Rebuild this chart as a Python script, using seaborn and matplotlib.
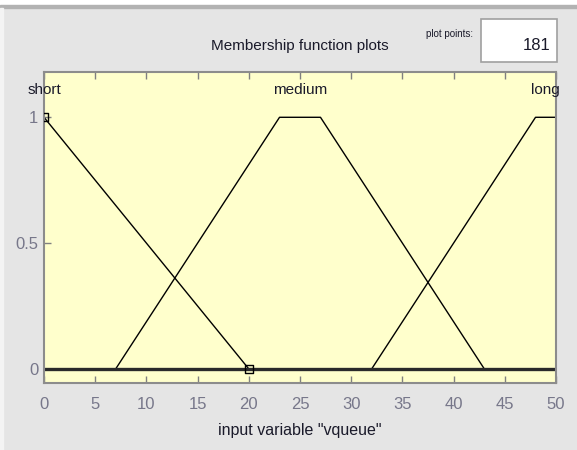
import matplotlib
matplotlib.use("Agg")
import matplotlib.pyplot as plt
from matplotlib.patches import Rectangle
import seaborn as sns
import pandas as pd

# Membership function vertices for input variable "vqueue"
mf_names = ["short", "medium", "long"]
short_x = [0, 20]
short_y = [1, 0]
medium_x = [7, 23, 27, 43]
medium_y = [0, 1, 1, 0]
long_x = [32, 48, 50]
long_y = [0, 1, 1]
label_x = [0, 25, 49]
x_range = [0, 50]
x_ticks = [0, 5, 10, 15, 20, 25, 30, 35, 40, 45, 50]
y_ticks = [0, 0.5, 1]
y_tick_labels = ["0", "0.5", "1"]
plot_points = 181

sns.set_theme(style="white")
plt.rcParams["font.family"] = ["Liberation Sans", "DejaVu Sans"]

bg = "#e5e5e5"
text_col = "#1a1a2a"
fig = plt.figure(figsize=(5.77, 4.5), dpi=100, facecolor=bg)

# window frame strips along the top and left edge
fig.patches.append(Rectangle((0, 1 - 5 / 450), 1, 5 / 450, transform=fig.transFigure,
                             color="white", zorder=0))
fig.patches.append(Rectangle((0, 1 - 8 / 450), 1, 3 / 450, transform=fig.transFigure,
                             color="#b2b2b2", zorder=0))
fig.patches.append(Rectangle((0, 0), 3 / 577, 1 - 8 / 450, transform=fig.transFigure,
                             color="#f4f4f4", zorder=0))

ax = fig.add_axes([44 / 577, 1 - 383 / 450, 512 / 577, 311 / 450])
ax.set_facecolor("#ffffcc")

mf_frames = [
    pd.DataFrame({"x": short_x, "mu": short_y, "mf": "short"}),
    pd.DataFrame({"x": medium_x, "mu": medium_y, "mf": "medium"}),
    pd.DataFrame({"x": long_x, "mu": long_y, "mf": "long"}),
]
for df in mf_frames:
    sns.lineplot(data=df, x="x", y="mu", ax=ax, color="black", lw=1.0,
                 sort=False, estimator=None, legend=False)

# zero baseline across the universe of discourse
base = pd.DataFrame({"x": x_range, "mu": [0, 0]})
sns.lineplot(data=base, x="x", y="mu", ax=ax, color="#2a2a2a", lw=2.4,
             estimator=None, legend=False)

# vertex markers of the selected function
sel = pd.DataFrame({"x": short_x, "mu": short_y})
sns.scatterplot(data=sel, x="x", y="mu", ax=ax, marker="s", s=30,
                facecolor="none", edgecolor="black", linewidth=1.0, zorder=5,
                legend=False)

for name, lx in zip(mf_names, label_x):
    ax.text(lx, 1.11, name, ha="center", va="center", fontsize=11,
            color=text_col, clip_on=False)

ax.set_xlim(x_range)
ax.set_ylim(-0.056, 1.18)
ax.set_xticks(x_ticks)
ax.set_xticklabels([str(t) for t in x_ticks])
ax.set_yticks(y_ticks)
ax.set_yticklabels(y_tick_labels)
tick_col = "#77778a"
ax.tick_params(axis="both", direction="in", length=5, width=1, color="#808080",
               labelcolor=tick_col, labelsize=12, top=True, bottom=True,
               left=True, right=False)
ax.tick_params(axis="x", pad=10)
ax.tick_params(axis="y", pad=4)
for s in ax.spines.values():
    s.set_color("#8c8c8c")
    s.set_linewidth(1.5)

ax.set_xlabel('input variable "vqueue"', fontsize=11.5, color=text_col, labelpad=8)
ax.set_ylabel("")

fig.text(300 / 577, 1 - 46 / 450, "Membership function plots", ha="center",
         va="center", fontsize=11, color=text_col)
fig.text(449 / 577, 1 - 34 / 450, "plot points:", ha="center", va="center",
         fontsize=7, color=text_col)
fig.patches.append(Rectangle((481 / 577, 1 - 62 / 450), 76 / 577, 43 / 450,
                             transform=fig.transFigure, facecolor="white",
                             edgecolor="#a0a0a0", lw=1.2, zorder=1))
fig.text(551 / 577, 1 - 45 / 450, str(plot_points), ha="right", va="center",
         fontsize=12, color=text_col)

fig.savefig("out.png", dpi=100, facecolor=bg)
